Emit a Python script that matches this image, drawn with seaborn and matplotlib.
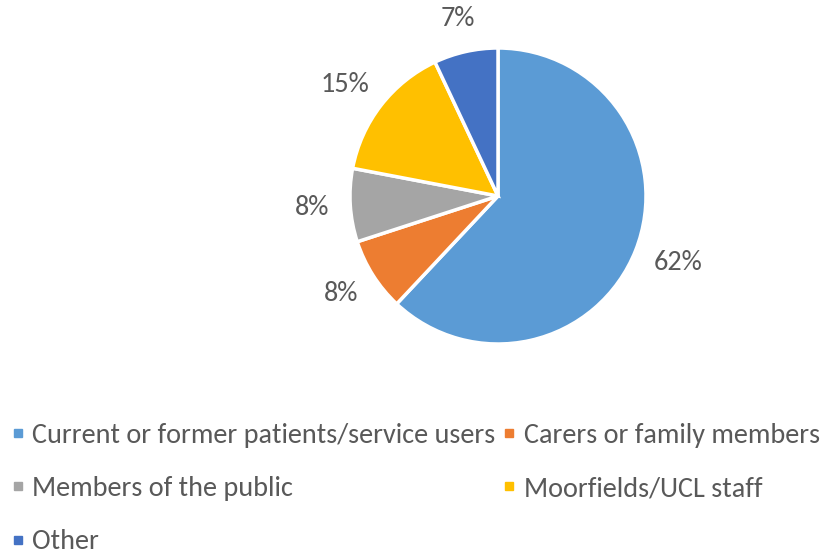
import matplotlib
matplotlib.use("Agg")
import matplotlib.pyplot as plt
from matplotlib.lines import Line2D
import numpy as np
import seaborn as sns

# Respondent groups and their shares (%)
categories = [
    "Current or former patients/service users",
    "Carers or family members",
    "Members of the public",
    "Moorfields/UCL staff",
    "Other",
]
shares = [62, 8, 8, 15, 7]
colors_hex = ["#5B9BD5", "#ED7D31", "#A5A5A5", "#FFC000", "#4472C4"]

sns.set_theme(style="white")
plt.rcParams["font.family"] = ["Carlito", "DejaVu Sans"]
text_color = "#595959"
palette = sns.color_palette(colors_hex)

W, H = 831, 553
fig = plt.figure(figsize=(W / 100, H / 100), dpi=100)
fig.patch.set_facecolor("white")

# Pie axes: centre and radius in pixels
cx, cy, r = 498, 196, 148
ax = fig.add_axes([(cx - r) / W, (H - cy - r) / H, 2 * r / W, 2 * r / H])
wedges, _, autotexts = ax.pie(
    shares,
    colors=palette,
    startangle=90,
    counterclock=False,
    radius=1,
    autopct=lambda p: f"{p:.0f}%",
    pctdistance=1.27,
    wedgeprops=dict(edgecolor="white", linewidth=2.5),
    textprops=dict(color=text_color, fontsize=20.3),
)
ax.set_xlim(-1, 1)
ax.set_ylim(-1, 1)
ax.set_aspect("equal")
ax.axis("off")

# Place each percentage just outside the rim, with its box pushed outward
fig.canvas.draw()
renderer = fig.canvas.get_renderer()
px = ax.transData.transform((1, 0))[0] - ax.transData.transform((0, 0))[0]
gap = 1 + 21 / px
for wedge, txt in zip(wedges, autotexts):
    th = np.deg2rad((wedge.theta1 + wedge.theta2) / 2)
    bb = txt.get_window_extent(renderer)
    hw, hh = bb.width / 2 / px, bb.height / 2 / px
    c, s = np.cos(th), np.sin(th)
    txt.set_position((gap * c + hw * c, gap * s + hh * s))
    txt.set_ha("center")
    txt.set_va("center")

# Legend: two columns filled row by row
order = [0, 2, 4, 1, 3]
handles = [
    Line2D([], [], marker="s", linestyle="none", markersize=6,
           markerfacecolor=palette[i], markeredgecolor=palette[i])
    for i in order
]
labels = [categories[i] for i in order]
leg = fig.legend(
    handles, labels,
    ncol=2,
    loc="upper left",
    bbox_to_anchor=(11 / W, 1 - 423 / H),
    frameon=False,
    fontsize=20.3,
    labelcolor=text_color,
    handlelength=0.5,
    handletextpad=0.25,
    columnspacing=0.25,
    labelspacing=1.0,
    borderaxespad=0.0,
    borderpad=0.0,
)

fig.savefig("out.png", dpi=100, facecolor="white")
